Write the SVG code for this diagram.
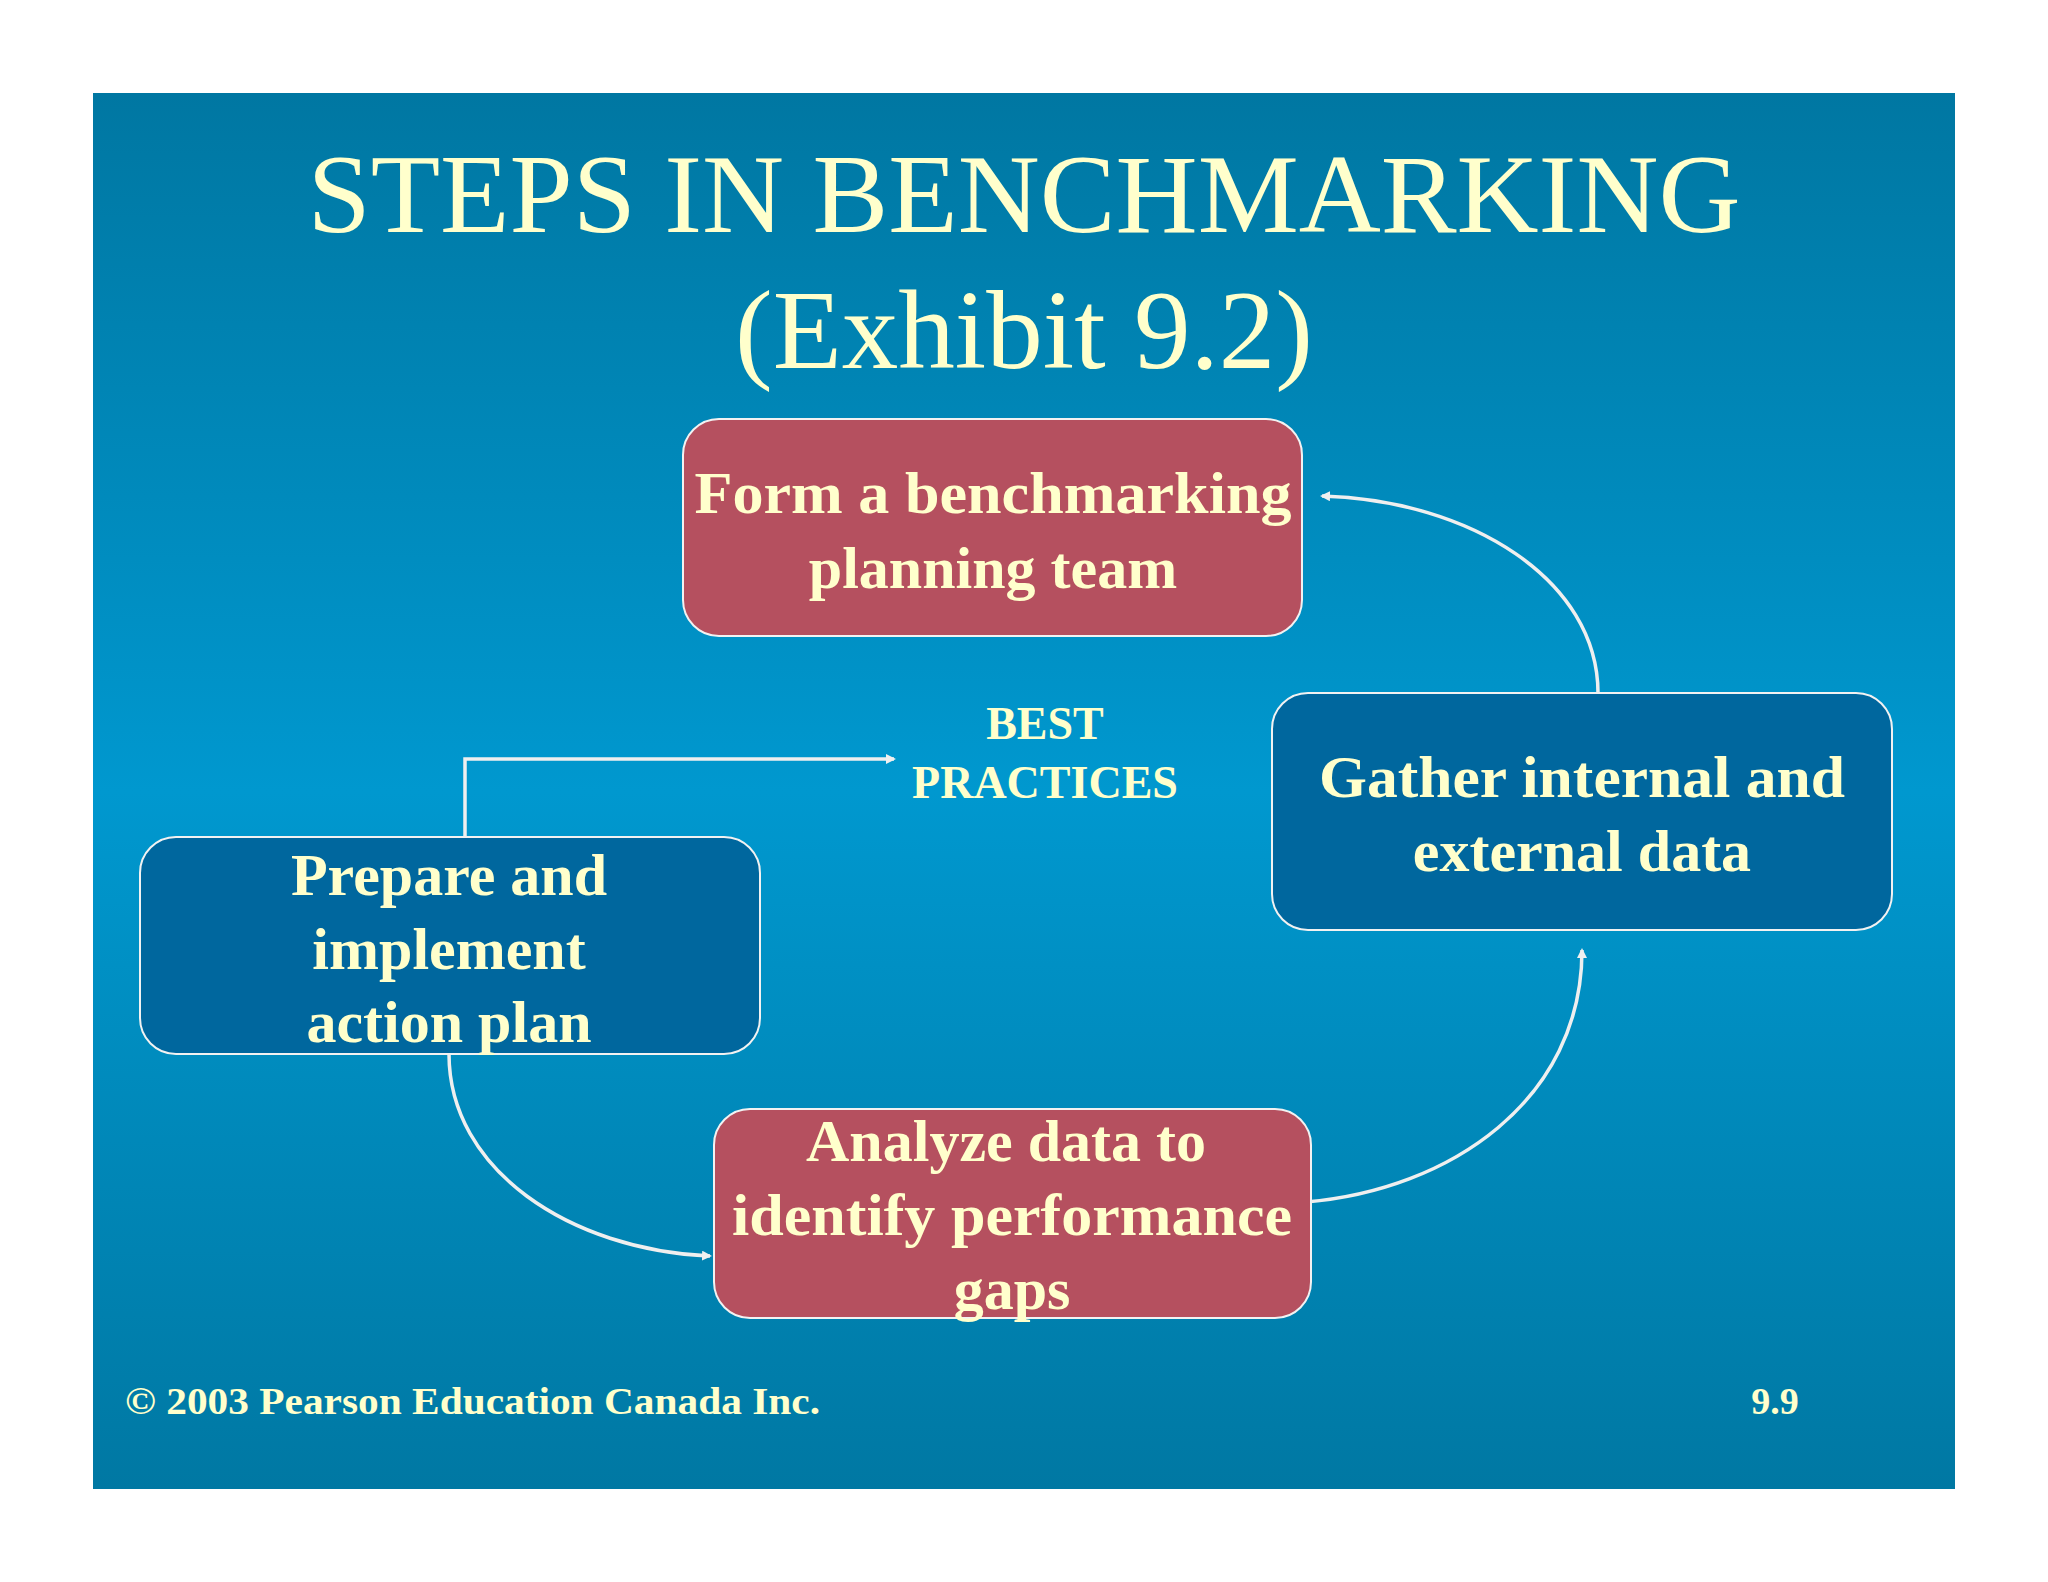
<svg xmlns="http://www.w3.org/2000/svg" width="2048" height="1582" viewBox="0 0 2048 1582">
<defs>
<linearGradient id="bg" x1="0" y1="0" x2="0" y2="1">
<stop offset="0" stop-color="#0077a2"/>
<stop offset="0.5" stop-color="#0098cf"/>
<stop offset="1" stop-color="#0078a3"/>
</linearGradient>
<marker id="ah" markerWidth="10" markerHeight="10" refX="8" refY="5" orient="auto" markerUnits="userSpaceOnUse">
<path d="M0,0 L10,5 L0,10 Z" fill="#f0f0f0"/>
</marker>
<style>
.red{fill:#b5505f;stroke:#f2f2f2;stroke-width:2}
.blue{fill:#00679e;stroke:#f2f2f2;stroke-width:2}
.t{font-family:"Liberation Serif",serif;font-weight:bold;fill:#ffffcc;text-anchor:middle}
.n{font-size:60px}
.c{fill:none;stroke:#efefef;stroke-width:3.5}
</style>
</defs>
<rect width="2048" height="1582" fill="#fff"/>
<rect x="93" y="93" width="1862" height="1396" fill="url(#bg)"/>
<text x="1024" y="232" font-family="Liberation Serif,serif" font-size="112" fill="#ffffcc" text-anchor="middle" textLength="1433" lengthAdjust="spacingAndGlyphs">STEPS IN BENCHMARKING</text>
<text x="1024" y="368" font-family="Liberation Serif,serif" font-size="112" fill="#ffffcc" text-anchor="middle" textLength="578" lengthAdjust="spacingAndGlyphs">(Exhibit 9.2)</text>
<g id="connectors">
<path class="c" d="M1598,693 C1598,580 1470,500 1322,496" marker-end="url(#ah)"/>
<path class="c" d="M1306,1202 C1450,1190 1582,1100 1582,950" marker-end="url(#ah)"/>
<path class="c" d="M449,1054 C449,1170 570,1250 710,1256" marker-end="url(#ah)"/>
<path class="c" d="M465,837 L465,759 L894,759" marker-end="url(#ah)"/>
</g>
<g id="form">
<rect class="red" x="683" y="419" width="619" height="217" rx="36"/>
<text class="t n" x="993" y="513" textLength="597" lengthAdjust="spacingAndGlyphs">Form a benchmarking</text>
<text class="t n" x="993" y="588">planning team</text>
</g>
<g id="gather">
<rect class="blue" x="1272" y="693" width="620" height="237" rx="36"/>
<text class="t n" x="1582" y="797" textLength="526" lengthAdjust="spacingAndGlyphs">Gather internal and</text>
<text class="t n" x="1582" y="871">external data</text>
</g>
<g id="prepare">
<rect class="blue" x="140" y="837" width="620" height="217" rx="36"/>
<text class="t n" x="449" y="895">Prepare and</text>
<text class="t n" x="449" y="969">implement</text>
<text class="t n" x="449" y="1042">action plan</text>
</g>
<g id="analyze">
<rect class="red" x="714" y="1109" width="597" height="209" rx="36"/>
<text class="t n" x="1006" y="1161">Analyze data to</text>
<text class="t n" x="1012" y="1235" textLength="560" lengthAdjust="spacingAndGlyphs">identify performance</text>
<text class="t n" x="1012" y="1309">gaps</text>
</g>
<g id="best">
<text class="t" font-size="46" x="1045" y="739">BEST</text>
<text class="t" font-size="46" x="1045" y="798">PRACTICES</text>
</g>
<text class="t" font-size="38" x="125" y="1414" text-anchor="start" style="text-anchor:start" textLength="695" lengthAdjust="spacingAndGlyphs">© 2003 Pearson Education Canada Inc.</text>
<text class="t" font-size="38" x="1775" y="1414">9.9</text>
</svg>
